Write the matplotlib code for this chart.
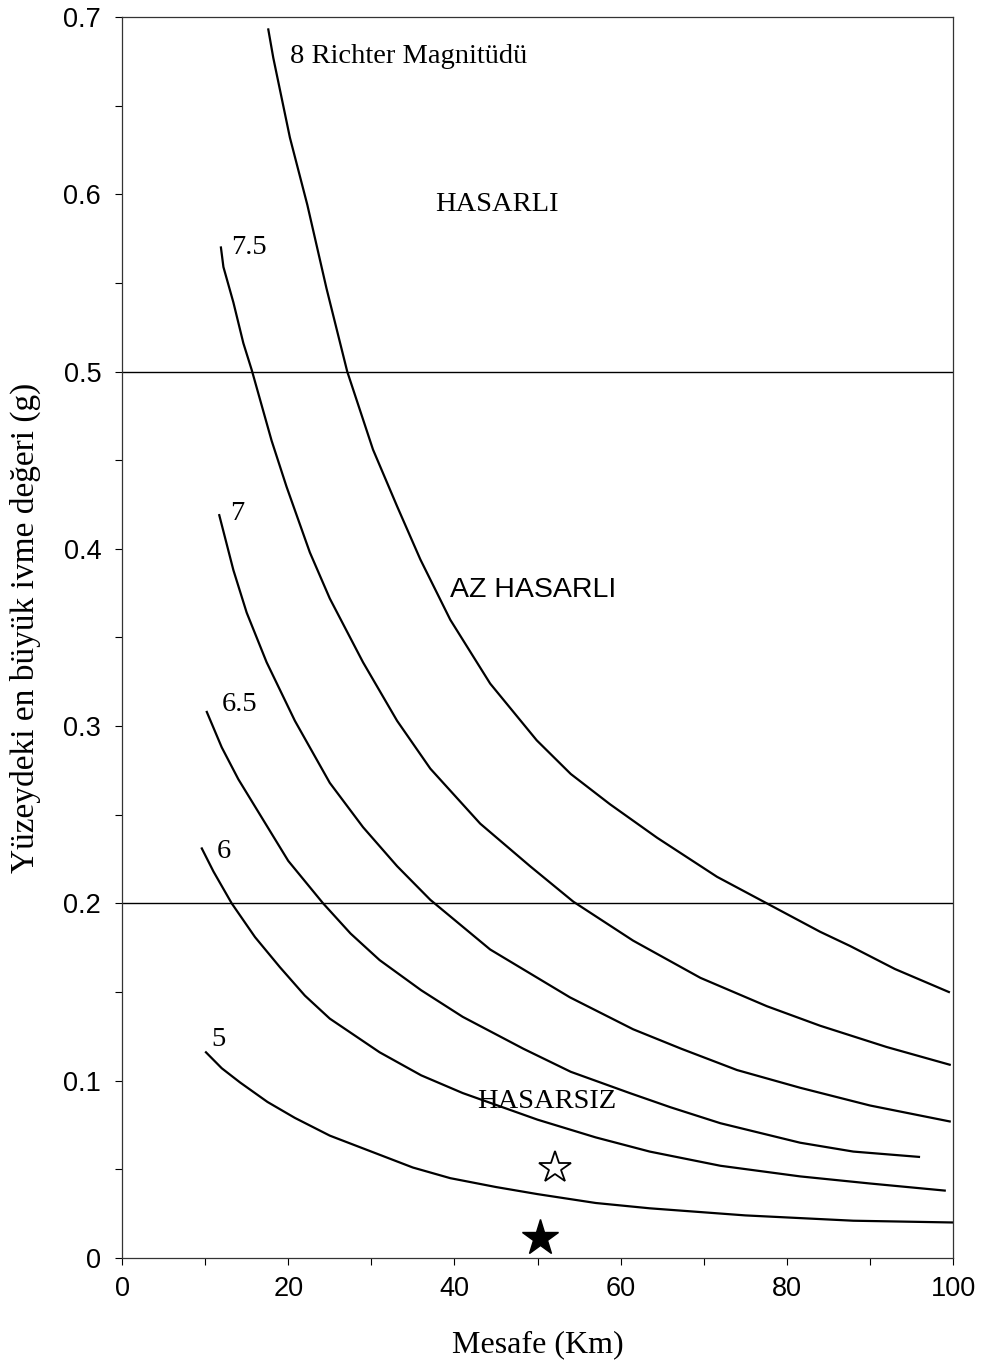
import matplotlib
matplotlib.use("Agg")
import matplotlib.pyplot as plt
from matplotlib.ticker import MultipleLocator

# distance (km) / peak ground acceleration (g), per magnitude
x_m8 = [17.6, 18.2, 20.2, 22.3, 24.6, 27.1, 30.2, 33.1, 35.9, 39.5, 44.3, 49.9, 54.0, 58.7, 64.4, 71.6, 77.6, 84.0, 87.6, 93.0, 99.5]
y_m8 = [0.693, 0.677, 0.632, 0.594, 0.547, 0.500, 0.456, 0.424, 0.394, 0.360, 0.324, 0.292, 0.273, 0.256, 0.237, 0.215, 0.200, 0.184, 0.176, 0.163, 0.150]

x_m75 = [11.9, 12.2, 13.4, 14.6, 15.6, 18.0, 19.8, 22.6, 25.0, 29.0, 33.1, 37.1, 43.1, 49.1, 54.3, 61.5, 69.6, 77.6, 84.0, 92.0, 99.6]
y_m75 = [0.570, 0.559, 0.539, 0.516, 0.501, 0.461, 0.435, 0.398, 0.372, 0.336, 0.303, 0.276, 0.245, 0.221, 0.201, 0.179, 0.158, 0.142, 0.131, 0.119, 0.109]

x_m7 = [11.7, 13.4, 15.0, 17.4, 20.8, 25.0, 29.0, 33.1, 37.1, 44.3, 53.9, 61.5, 67.3, 74.0, 81.6, 90.0, 99.6]
y_m7 = [0.419, 0.388, 0.364, 0.336, 0.303, 0.268, 0.243, 0.221, 0.202, 0.174, 0.147, 0.129, 0.118, 0.106, 0.096, 0.086, 0.077]

x_m65 = [10.2, 12.0, 14.0, 17.0, 20.0, 24.2, 27.5, 31.0, 36.0, 41.0, 48.3, 54.0, 61.1, 66.0, 72.0, 81.6, 88.0, 95.9]
y_m65 = [0.308, 0.288, 0.270, 0.247, 0.224, 0.200, 0.183, 0.168, 0.151, 0.136, 0.118, 0.105, 0.093, 0.085, 0.076, 0.065, 0.060, 0.057]

x_m6 = [9.6, 11.0, 13.2, 16.0, 19.0, 22.0, 25.0, 31.0, 36.0, 41.0, 50.0, 57.0, 63.5, 72.0, 81.6, 90.0, 99.0]
y_m6 = [0.231, 0.218, 0.200, 0.181, 0.164, 0.148, 0.135, 0.116, 0.103, 0.093, 0.078, 0.068, 0.060, 0.052, 0.046, 0.042, 0.038]

x_m5 = [10.1, 12.0, 14.2, 17.5, 20.8, 25.0, 30.0, 35.0, 39.5, 45.0, 50.0, 57.0, 63.5, 75.0, 88.0, 100.0]
y_m5 = [0.116, 0.107, 0.099, 0.088, 0.079, 0.069, 0.060, 0.051, 0.045, 0.040, 0.036, 0.031, 0.028, 0.024, 0.021, 0.020]

curve_labels = ["8 Richter Magnitüdü", "7.5", "7", "6.5", "6", "5"]
label_pos = [(20.2, 0.678), (13.1, 0.570), (13.0, 0.420), (12.0, 0.312), (11.4, 0.229), (10.8, 0.123)]

limits = [0.2, 0.5]
open_star = (52.1, 0.051)
full_star = (50.3, 0.011)

fig = plt.figure(figsize=(9.81, 13.62), dpi=100)
ax = fig.add_axes([0.1244, 0.0764, 0.8471, 0.9111])

curves = [(x_m8, y_m8), (x_m75, y_m75), (x_m7, y_m7), (x_m65, y_m65), (x_m6, y_m6), (x_m5, y_m5)]
for xs, ys in curves:
    ax.plot(xs, ys, color="black", lw=1.6, solid_joinstyle="round")

for lim in limits:
    ax.axhline(lim, color="black", lw=1.0)

serif = "Liberation Serif"
for txt, (tx, ty) in zip(curve_labels, label_pos):
    ax.text(tx, ty, txt, family=serif, fontsize=20.5, va="center", ha="left")

ax.text(45.1, 0.594, "HASARLI", family=serif, fontsize=20.5, va="center", ha="center")
ax.text(39.5, 0.377, "AZ HASARLI", family="Liberation Sans", fontsize=20.5, va="center", ha="left")
ax.text(42.7, 0.088, "HASARSIZ", family=serif, fontsize=20.5, va="center", ha="left")

ax.plot(*open_star, marker="*", markersize=24, markerfacecolor="white", markeredgecolor="black", markeredgewidth=1.3)
ax.plot(*full_star, marker="*", markersize=27, color="black")

ax.set_xlim(0, 100)
ax.set_ylim(0, 0.7)
ax.xaxis.set_major_locator(MultipleLocator(20))
ax.xaxis.set_minor_locator(MultipleLocator(10))
ax.yaxis.set_major_locator(MultipleLocator(0.1))
ax.yaxis.set_minor_locator(MultipleLocator(0.05))
ax.set_yticks([0, 0.1, 0.2, 0.3, 0.4, 0.5, 0.6, 0.7])
ax.set_yticklabels(["0", "0.1", "0.2", "0.3", "0.4", "0.5", "0.6", "0.7"])
ax.tick_params(which="both", direction="out", length=5, width=0.8, colors="black")
ax.tick_params(axis="y", which="major", labelsize=19.5, pad=10)
ax.tick_params(axis="x", which="major", labelsize=19.5, pad=8)
for lab in ax.get_xticklabels() + ax.get_yticklabels():
    lab.set_family("Liberation Sans")
for s in ax.spines.values():
    s.set_linewidth(0.9)
    s.set_color("#333333")

ax.set_xlabel("Mesafe (Km)", family=serif, fontsize=23, labelpad=20)
ax.set_ylabel("Yüzeydeki en büyük ivme değeri (g)", family=serif, fontsize=24)
ax.yaxis.set_label_coords(-0.097, 0.508)

fig.savefig("out.png", dpi=100)
